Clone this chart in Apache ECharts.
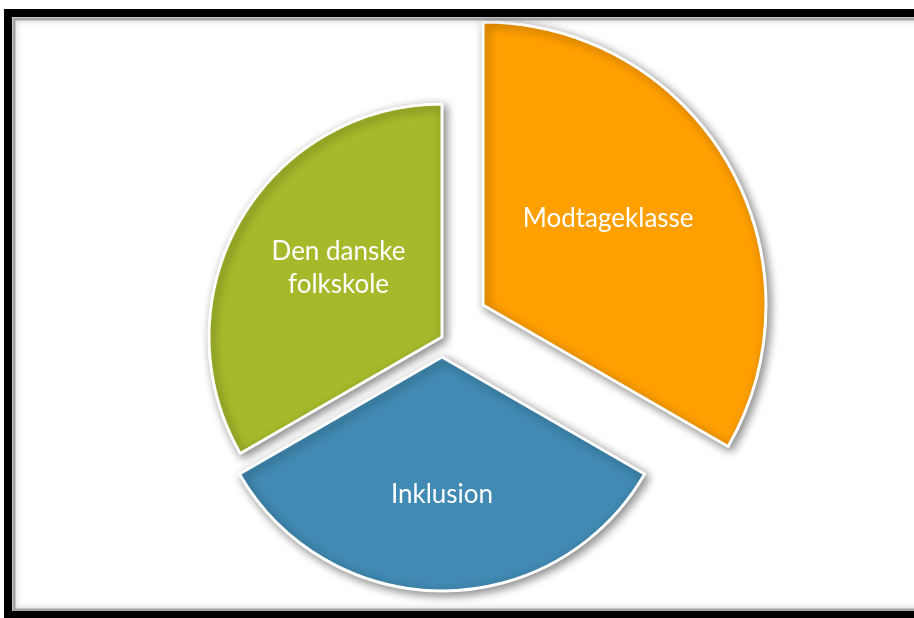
<!DOCTYPE html>
<html>
<head>
<meta charset="utf-8">
<script src="https://cdn.jsdelivr.net/npm/echarts@6/dist/echarts.min.js"></script>
<style>
html,body{margin:0;padding:0;background:#fff;}
#chart{width:914px;height:618px;}
</style>
</head>
<body>
<div id="chart"></div>
<script>
// Data
var categories = ['Modtageklasse', 'Inklusion', 'Den danske\nfolkskole'];
var values = [1, 1, 1];
var colors = ['#FF9F00', '#418AB3', '#A6B92B'];

// Layout per slice (exploded pieces drawn as separate series)
var centers = [[483, 305], [442, 357], [442, 337]];
var radii = [283, 234, 233];
var labelFormats = ['{b}\n{s| }', '{s| }\n{b}', '{b}\n{s| }'];
var spacerHeights = [28, 36, 18];

var chart = echarts.init(document.getElementById('chart'), null, {renderer: 'canvas'});

var series = categories.map(function (cat, i) {
  return {
    type: 'pie',
    center: centers[i],
    radius: [0, radii[i]],
    startAngle: 90,
    clockwise: true,
    silent: true,
    animation: false,
    avoidLabelOverlap: false,
    data: categories.map(function (c, j) {
      var visible = (i === j);
      return {
        name: c,
        value: values[j],
        itemStyle: visible ? {
          color: colors[j],
          borderColor: '#ffffff',
          borderWidth: 3,
          shadowBlur: 10,
          shadowColor: 'rgba(0,0,0,0.45)',
          shadowOffsetX: 3,
          shadowOffsetY: 3
        } : {color: 'rgba(0,0,0,0)', borderWidth: 0, shadowBlur: 0},
        label: visible ? {
          show: true,
          position: 'inside',
          color: '#ffffff',
          fontFamily: 'Lato',
          fontSize: 26,
          lineHeight: 33,
          formatter: labelFormats[i],
          rich: {s: {fontSize: 4, lineHeight: spacerHeights[i], height: spacerHeights[i]}}
        } : {show: false},
        labelLine: {show: false}
      };
    })
  };
});

chart.setOption({
  backgroundColor: '#ffffff',
  animation: false,
  graphic: [
    {
      type: 'rect',
      z: 100,
      shape: {x: 14, y: 19, width: 920, height: 591},
      style: {fill: 'none', stroke: 'rgba(120,120,120,0.6)', lineWidth: 3, shadowBlur: 6, shadowColor: 'rgba(0,0,0,0.45)'}
    },
    {
      type: 'rect',
      z: 101,
      shape: {x: 8, y: 13, width: 930, height: 602},
      style: {fill: 'none', stroke: '#000000', lineWidth: 8}
    }
  ],
  series: series
});
</script>
</body>
</html>
